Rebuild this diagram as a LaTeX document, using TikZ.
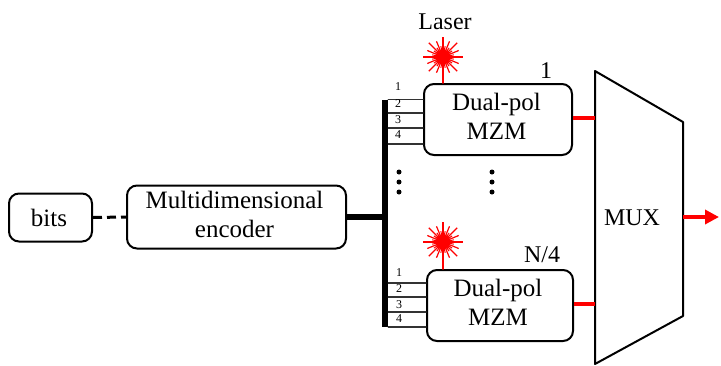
\documentclass[tikz,border=0pt]{standalone}
\usepackage{fontspec}
\setmainfont{Liberation Serif}
\usetikzlibrary{arrows.meta}

\newcommand{\lowstrut}{\rule[-6pt]{0pt}{6pt}}

\begin{document}
\begin{tikzpicture}[x=1pt, y=-1pt, line cap=round, line join=round,
    blockbox/.style={draw=black, line width=2pt, rounded corners=10pt, inner sep=0pt, align=center, font=\fontsize{25}{29}\selectfont},
    plaintext/.style={inner sep=0pt, font=\fontsize{24}{29}\selectfont},
    wirenum/.style={inner sep=0pt, font=\fontsize{12}{14}\selectfont},
    wire/.style={black!80, line width=1.2pt},
    redlink/.style={red, line width=4.5pt, line cap=butt},
    burstcore/.style={circle, fill=red, inner sep=0pt, minimum size=15pt}]

  \useasboundingbox (0,0) rectangle (721,365);

  % Source and encoder
  \node[blockbox, minimum width=83pt, minimum height=48pt] (bits) at (50.5,217.5) {bits\kern3pt};
  \node[blockbox, minimum width=219pt, minimum height=63pt] (encoder) at (236.5,217) {Multidimensional\kern4pt\\encoder\kern4pt\lowstrut};
  \draw[line width=3pt, dash pattern=on 9pt off 5pt, line cap=butt] (bits.east) -- (encoder.west);

  % Bus
  \node[fill=black, inner sep=0pt, minimum width=6pt, minimum height=227pt] (bus) at (385,213.5) {};
  \draw[line width=6pt, line cap=butt] (encoder.east) -- (encoder.east -| bus.west);

  % Modulators
  \node[blockbox, minimum width=148pt, minimum height=71pt] (mzm1) at (498,119.5) {Dual-pol\kern3pt\\MZM\kern3pt\lowstrut};
  \node[blockbox, minimum width=146pt, minimum height=71pt] (mzm2) at (500,305.5) {Dual-pol\kern4pt\\MZM\kern4pt\lowstrut};

  \node[plaintext] (firstnum) at (546,71) {1};
  \node[plaintext] (lastnum) at (542,255) {N/4};

  % Input wires
  \foreach \wirey/\numy/\num in {99.5/87/1, 113/104/2, 128/120/3, 144/135/4} {
    \draw[wire] (bus.east |- 0,\wirey) -- (mzm1.west |- 0,\wirey);
    \node[wirenum] (numa\num) at (398,\numy) {\num};
  }
  \foreach \wirey/\numy/\num in {283/273/1, 297/289/2, 312/305/3, 327/319/4} {
    \draw[wire] (bus.east |- 0,\wirey) -- (mzm2.west |- 0,\wirey);
    \node[wirenum] (numb\num) at (399,\numy) {\num};
  }

  % Dots
  \foreach \doty in {172,182,192} {
    \fill (399,\doty) circle (2.5pt);
    \fill (492,\doty) circle (2.5pt);
  }

  % Lasers
  \node[plaintext] (lasertext) at (445,22) {Laser};
  \node[burstcore] (bursta) at (443,57) {};
  \node[burstcore] (burstb) at (443,242) {};
  \foreach \burst in {bursta,burstb} {
    \foreach \ang in {0,45,...,315}
      \draw[red, line width=1.2pt, line cap=butt] (\burst.center) -- ++(\ang:20);
    \foreach \ang in {22.5,67.5,...,337.5}
      \draw[red, line width=1.2pt, line cap=butt] (\burst.center) -- ++(\ang:17);
    \foreach \ang in {11.25,33.75,...,348.75}
      \draw[red, line width=1pt, line cap=butt] (\burst.center) -- ++(\ang:11);
  }
  \draw[red, line width=1.5pt] (bursta) -- (bursta |- mzm1.north);
  \draw[red, line width=1.5pt] (burstb) -- (burstb |- mzm2.north);

  % Multiplexer
  \coordinate (muxa) at (595,71);
  \coordinate (muxb) at (683,122);
  \coordinate (muxc) at (683,316);
  \coordinate (muxd) at (595,364);
  \draw[line width=2pt] (muxa) -- (muxb) -- (muxc) -- (muxd) -- cycle;
  \node[plaintext] (muxtext) at (632,218) {MUX};

  \draw[redlink] ([yshift=1.5pt]mzm1.east) -- ([yshift=1.5pt]mzm1.east -| muxa);
  \draw[redlink] ([yshift=1.5pt]mzm2.east) -- ([yshift=1.5pt]mzm2.east -| muxa);

  % Output
  \coordinate (outend) at (719,217);
  \draw[red, line width=4.5pt, -{Triangle[length=14pt, width=14pt]}, line cap=butt] (muxb |- outend) -- (outend);

\end{tikzpicture}
\end{document}
